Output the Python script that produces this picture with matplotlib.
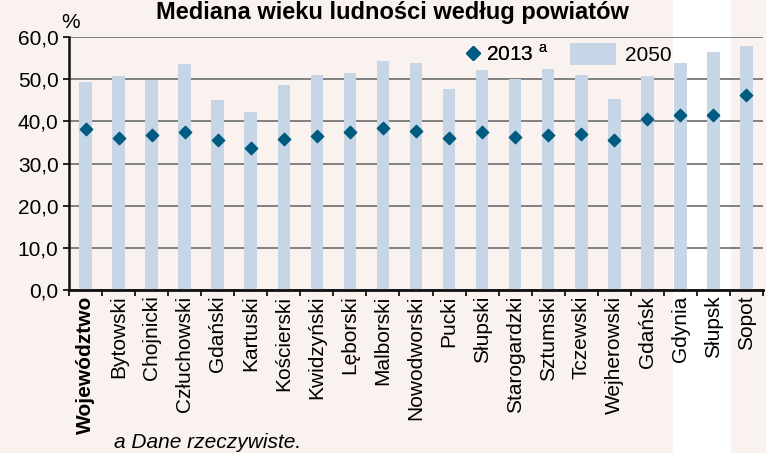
import numpy as np
import matplotlib.pyplot as plt
from matplotlib.lines import Line2D
from matplotlib.patches import Patch, Rectangle

plt.rcParams['font.family'] = ['Liberation Sans', 'DejaVu Sans']
plt.rcParams['mathtext.fontset'] = 'custom'
plt.rcParams['mathtext.rm'] = 'Liberation Sans'

powiaty = ['Województwo', 'Bytowski', 'Chojnicki', 'Człuchowski', 'Gdański',
           'Kartuski', 'Kościerski', 'Kwidzyński', 'Lęborski', 'Malborski',
           'Nowodworski', 'Pucki', 'Słupski', 'Starogardzki', 'Sztumski',
           'Tczewski', 'Wejherowski', 'Gdańsk', 'Gdynia', 'Słupsk', 'Sopot']
med_2050 = [49.3, 50.7, 49.8, 53.6, 45.0, 42.2, 48.7, 51.1, 51.4, 54.2,
            53.9, 47.6, 52.1, 50.0, 52.4, 51.1, 45.3, 50.7, 53.9, 56.5, 57.9]
med_2013 = [38.2, 36.1, 36.7, 37.4, 35.5, 33.6, 35.7, 36.5, 37.4, 38.5,
            37.8, 36.1, 37.4, 36.2, 36.8, 37.1, 35.5, 40.5, 41.6, 41.6, 46.2]
y_ticks = [0, 10, 20, 30, 40, 50, 60]

bg = '#FAF2EF'
bar_col = '#C6D6E6'
dot_col = '#005B80'
fs = 15

W, H = 766, 453
fig = plt.figure(figsize=(W / 100, H / 100), dpi=100, facecolor=bg)
# white strip from page layout
fig.patches.append(Rectangle((673 / W, 0), 58 / W, 1, transform=fig.transFigure,
                             facecolor='white', edgecolor='none', zorder=-10))

ax = fig.add_axes([69 / W, 1 - 290 / H, 694 / W, 253 / H])
ax.set_facecolor('none')

x = np.arange(len(powiaty))
ax.bar(x, med_2050, width=0.38, color=bar_col, zorder=2)
ax.scatter(x, med_2013, marker='D', s=40, color=dot_col, zorder=3)

ax.set_xlim(-0.5, len(powiaty) - 0.5)
ax.set_ylim(0, 60)
ax.set_yticks(y_ticks)
ax.set_yticklabels([f'{v:.1f}'.replace('.', ',') for v in y_ticks], fontsize=fs)
ax.yaxis.grid(True, color='#808080', linewidth=1.4, zorder=1)
ax.set_axisbelow(True)

ax.set_xticks(x)
ax.set_xticklabels(powiaty, rotation=90, fontsize=fs)
ax.get_xticklabels()[0].set_fontweight('bold')
ax.set_xticks(np.arange(-0.5, len(powiaty)), minor=True)
ax.tick_params(axis='x', which='major', length=0, pad=4)
ax.tick_params(axis='x', which='minor', length=4, width=1.2, direction='out')
ax.tick_params(axis='y', length=4.5, width=1.2, pad=3)

for s in ['top', 'right']:
    ax.spines[s].set_visible(False)
ax.spines['left'].set_linewidth(1.8)
ax.spines['bottom'].set_linewidth(2.0)
ax.spines['bottom'].set_color('#111111')
ax.spines['left'].set_color('#111111')

leg1 = fig.legend(handles=[Line2D([], [], marker='D', color=dot_col, linestyle='none', markersize=7)],
                  labels=['2013 $^{\\rm a}$'], loc='center left', bbox_to_anchor=(466 / W, 1 - 54 / H),
                  frameon=False, fontsize=fs, handlelength=0.65, handletextpad=0.3,
                  borderpad=0, borderaxespad=0)
leg2 = fig.legend(handles=[Patch(facecolor=bar_col, edgecolor='none')], labels=['2050'],
                  loc='center left', bbox_to_anchor=(570 / W, 1 - 54 / H),
                  frameon=False, fontsize=fs, handlelength=2.2, handleheight=1.2,
                  handletextpad=0.43, borderpad=0, borderaxespad=0)
fig.add_artist(leg1)

fig.text(392 / W, 1 - 12 / H, 'Mediana wieku ludności według powiatów',
         ha='center', va='center', fontsize=17, fontweight='bold')
fig.text(71 / W, 1 - 22 / H, '%', ha='center', va='center', fontsize=fs)
fig.text(114 / W, 1 - 443 / H, 'a Dane rzeczywiste.', ha='left', va='center',
         fontsize=fs, style='italic')

fig.savefig('out.png', dpi=100, facecolor=bg)
